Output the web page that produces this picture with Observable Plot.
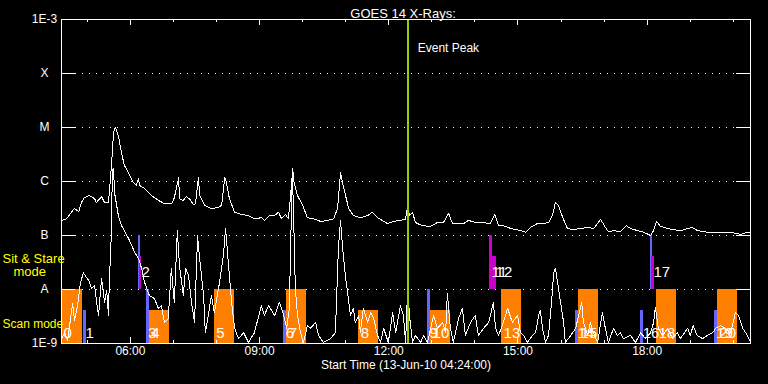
<!DOCTYPE html>
<html><head><meta charset="utf-8">
<script src="https://cdn.jsdelivr.net/npm/d3@7"></script>
<script src="https://cdn.jsdelivr.net/npm/@observablehq/plot@0.6"></script>
<style>html,body{margin:0;padding:0;background:#000;overflow:hidden} svg{display:block}</style>
</head><body><div id="chart"></div>
<script>
// ---- time axis (decimal hours UT, 13-Jun-2010) ----
const startHour = 4.4, endHour = 20.4;
const xTickLabels = ["06:00","09:00","12:00","15:00","18:00"];
const yLevels = [1e-9,1e-8,1e-7,1e-6,1e-5,1e-4,1e-3];
const yLabels = ["1E-9","A","B","C","M","X","1E-3"];
const gridLevels = [1e-8,1e-7,1e-6,1e-5,1e-4];
const peakHour = 12.44;

// ---- GOES 1-8 A (long channel), log10 flux ----
const upTime = [
 4.40,4.52,4.63,4.70,4.80,4.86,4.93,5.05,5.17,5.21,
 5.33,5.40,5.49,5.52,5.56,5.61,5.65,5.72,5.79,5.86,
 5.96,6.07,6.14,6.19,6.21,6.33,6.49,6.65,6.79,6.96,
 7.02,7.12,7.14,7.23,7.30,7.37,7.47,7.51,7.58,7.61,
 7.72,7.88,8.05,8.12,8.19,8.23,8.30,8.42,8.58,8.74,
 8.88,9.05,9.11,9.23,9.35,9.44,9.51,9.60,9.67,9.72,
 9.77,9.79,9.88,10.00,10.11,10.25,10.42,10.58,10.72,10.81,
 10.88,10.95,11.07,11.18,11.34,11.51,11.62,11.74,11.97,12.11,
 12.27,12.39,12.44,12.48,12.55,12.62,12.78,12.97,13.13,13.27,
 13.39,13.48,13.62,13.74,13.85,14.01,14.18,14.36,14.46,14.55,
 14.67,14.83,15.06,15.18,15.29,15.45,15.59,15.71,15.80,15.87,
 15.94,16.04,16.15,16.29,16.45,16.62,16.76,16.92,17.03,17.10,
 17.22,17.38,17.52,17.61,17.78,17.92,18.08,18.15,18.22,18.31,
 18.47,18.61,18.78,18.94,19.05,19.17,19.40,19.71,19.94,20.17,20.33,20.40];
const upLog = [
 -6.72,-6.69,-6.57,-6.50,-6.56,-6.39,-6.30,-6.26,-6.32,-6.39,
 -6.28,-6.39,-6.39,-6.11,-5.70,-5.09,-5.00,-5.15,-5.46,-5.70,
 -5.85,-6.02,-6.07,-5.94,-6.07,-6.13,-6.26,-6.35,-6.41,-6.41,
 -6.30,-5.93,-6.32,-6.35,-6.28,-6.32,-6.43,-6.41,-5.93,-6.26,
 -6.44,-6.50,-6.48,-6.44,-5.93,-6.02,-6.32,-6.57,-6.61,-6.63,
 -6.69,-6.67,-6.72,-6.63,-6.63,-6.57,-6.69,-6.61,-6.69,-6.26,
 -5.76,-5.98,-6.26,-6.44,-6.67,-6.69,-6.74,-6.72,-6.69,-6.50,
 -5.83,-6.11,-6.50,-6.63,-6.67,-6.63,-6.57,-6.67,-6.78,-6.74,
 -6.72,-6.70,-6.44,-6.63,-6.57,-6.76,-6.82,-6.83,-6.76,-6.76,
 -6.59,-6.78,-6.78,-6.78,-6.72,-6.76,-6.76,-6.78,-6.61,-6.82,
 -6.82,-6.87,-6.91,-6.94,-6.85,-6.78,-6.78,-6.76,-6.63,-6.39,
 -6.44,-6.67,-6.87,-6.89,-6.87,-6.85,-6.87,-6.70,-6.85,-6.93,
 -6.91,-6.93,-6.82,-6.87,-6.91,-6.94,-7.00,-6.91,-6.74,-6.83,
 -6.87,-6.89,-6.91,-6.87,-6.85,-6.91,-6.94,-6.94,-6.94,-6.98,-6.94,-6.94];

// ---- GOES 0.5-4 A (short channel), log10 flux ----
const loTime = [
 4.40,4.47,4.54,4.61,4.66,4.70,4.75,4.79,4.84,4.91,
 4.98,5.03,5.10,5.17,5.21,5.26,5.33,5.40,5.45,5.49,
 5.51,5.56,5.58,5.61,5.63,5.72,5.79,5.96,6.10,6.19,
 6.26,6.33,6.44,6.56,6.65,6.72,6.79,6.88,6.95,7.02,
 7.09,7.14,7.23,7.28,7.35,7.42,7.49,7.56,7.60,7.70,
 7.74,7.81,7.88,7.95,8.07,8.16,8.21,8.28,8.35,8.42,
 8.51,8.63,8.74,8.88,9.04,9.11,9.21,9.35,9.46,9.56,
 9.63,9.69,9.76,9.79,9.83,9.88,9.95,10.02,10.11,10.18,
 10.30,10.37,10.48,10.65,10.76,10.83,10.88,10.93,11.00,11.06,
 11.11,11.18,11.22,11.30,11.34,11.41,11.51,11.58,11.65,11.74,
 11.81,11.88,11.99,12.09,12.16,12.27,12.34,12.39,12.44,12.48,
 12.55,12.62,12.74,12.81,12.90,13.04,13.13,13.25,13.32,13.36,
 13.43,13.50,13.62,13.71,13.78,13.90,14.01,14.08,14.20,14.32,
 14.43,14.48,14.55,14.66,14.76,14.87,14.99,15.06,15.13,15.22,
 15.34,15.41,15.48,15.52,15.57,15.64,15.71,15.78,15.83,15.87,
 15.92,15.99,16.06,16.10,16.17,16.27,16.34,16.41,16.48,16.52,
 16.62,16.68,16.75,16.85,16.96,17.03,17.10,17.22,17.31,17.38,
 17.45,17.61,17.73,17.85,17.96,18.08,18.15,18.19,18.26,18.36,
 18.47,18.59,18.70,18.77,18.94,19.00,19.07,19.16,19.29,19.40,
 19.52,19.59,19.70,19.82,19.94,20.05,20.12,20.22,20.33,20.40];
const loLog = [
 -8.91,-8.80,-8.94,-8.54,-8.26,-8.57,-8.39,-8.20,-7.87,-7.69,
 -7.78,-7.83,-7.98,-7.93,-8.20,-8.48,-7.80,-8.24,-8.02,-8.48,
 -7.87,-6.94,-5.80,-5.76,-6.20,-6.63,-6.81,-7.06,-7.31,-7.43,
 -7.61,-7.87,-8.11,-8.17,-8.35,-8.30,-8.61,-8.54,-7.61,-8.24,
 -6.91,-7.56,-8.11,-7.61,-7.74,-8.24,-8.61,-7.00,-7.37,-8.11,
 -8.80,-8.48,-8.11,-8.43,-7.87,-7.37,-6.87,-7.56,-8.24,-8.72,
 -8.91,-8.80,-8.98,-8.80,-8.30,-8.48,-8.30,-8.48,-8.24,-8.48,
 -8.72,-8.35,-5.80,-6.63,-7.98,-8.48,-8.80,-8.98,-8.67,-8.72,
 -8.61,-8.85,-8.98,-8.91,-8.80,-7.24,-6.72,-7.24,-7.80,-8.15,
 -8.48,-8.35,-8.61,-8.48,-8.80,-8.35,-8.61,-8.43,-8.54,-8.85,
 -8.98,-8.72,-8.98,-8.43,-8.80,-8.30,-8.48,-8.98,-7.96,-8.48,
 -8.98,-8.85,-8.98,-8.85,-8.98,-8.48,-8.72,-8.61,-8.80,-8.07,
 -8.72,-8.98,-8.54,-8.35,-8.85,-8.61,-8.48,-8.85,-8.72,-8.61,
 -8.24,-8.72,-8.85,-8.61,-8.35,-8.61,-8.48,-8.80,-8.85,-8.98,
 -8.85,-8.80,-8.48,-8.39,-8.72,-8.98,-8.85,-8.24,-7.69,-7.61,
 -7.87,-8.24,-8.61,-8.98,-8.91,-8.80,-8.72,-8.48,-8.24,-8.61,
 -8.85,-8.61,-8.80,-8.98,-8.43,-8.72,-8.98,-8.72,-8.85,-8.80,
 -8.91,-8.85,-8.98,-8.80,-8.91,-8.80,-8.61,-8.33,-8.72,-8.85,
 -8.72,-8.91,-8.80,-8.91,-8.72,-8.85,-8.67,-8.85,-8.91,-8.85,
 -8.80,-8.72,-8.67,-8.72,-8.80,-8.43,-8.48,-8.72,-8.85,-8.98];

// ---- observation intervals ----
// scan mode (orange)
const scanId    = ["0","4","5","7","8","10","13","15","18","20"];
const scanStart = [4.40,6.44,7.95,9.63,11.30,12.97,14.62,16.41,18.22,19.63];
const scanEnd   = [4.89,6.91,8.42,10.09,11.76,13.43,15.08,16.87,18.68,20.10];
const scanTop   = [1e-8,4.1e-9,1e-8,1e-8,4.1e-9,4.1e-9,1e-8,1e-8,1e-8,1e-8];
// short pointings (blue)
const blueId     = ["1","2","3","6","9","14","16","17","19"];
const blueStart  = [4.91,6.19,6.37,9.56,12.90,16.34,17.85,18.08,19.56];
const blueEnd    = [4.98,6.23,6.44,9.63,12.97,16.41,17.92,18.12,19.63];
const blueBottom = [1e-9,1e-8,1e-9,1e-9,1e-9,1e-9,1e-9,1e-8,1e-9];
const blueTop    = [4.1e-9,1e-7,1e-8,4.1e-9,1e-8,4.1e-9,4.1e-9,1e-7,4.1e-9];
// sit & stare (magenta)
const stareId    = ["2","11","12","17"];
const stareStart = [6.21,14.34,14.41,18.10];
const stareEnd   = [6.26,14.41,14.50,18.17];
const stareTop   = [4.1e-8,1e-7,4.1e-8,4.1e-8];

// ---- build tables ----
const day = Date.UTC(2010, 5, 13);
const toDate = h => new Date(day + h * 3600e3);
const parseHM = s => { const [h, m] = s.split(":").map(Number); return toDate(h + m / 60); };
const upper = upTime.map((t, i) => ({t: toDate(t), f: 10 ** upLog[i]}));
const lower = loTime.map((t, i) => ({t: toDate(t), f: 10 ** loLog[i]}));
const scan = scanId.map((id, i) => ({id, s: toDate(scanStart[i]), e: toDate(scanEnd[i]), top: scanTop[i]}));
const blue = blueId.map((id, i) => ({id, s: toDate(blueStart[i]), e: toDate(blueEnd[i]), bot: blueBottom[i], top: blueTop[i]}));
const stare = stareId.map((id, i) => ({id, s: toDate(stareStart[i]), e: toDate(stareEnd[i]), top: stareTop[i]}));
const scanLabels = [...scan, ...blue.filter(d => d.bot < 1e-8)];
const xTicks = xTickLabels.map(parseHM);
const hourTicks = d3.utcHour.range(toDate(startHour), toDate(endHour));
const majorTicks = hourTicks.filter(d => d.getUTCHours() % 3 === 0);
const minorTicks = hourTicks.filter(d => d.getUTCHours() % 3 !== 0);

const W = 768, H = 384, mL = 61, mR = 18, mT = 19, mB = 41;
const fw = W - mL - mR, fh = H - mT - mB;
const font = "'Liberation Sans', Arial, sans-serif";
const white = "#ffffff";
const crisp = {shapeRendering: "crispEdges"};

const chart = Plot.plot({
  width: W, height: H,
  marginLeft: mL, marginRight: mR, marginTop: mT, marginBottom: mB,
  style: {background: "#000", color: white, fontFamily: font, fontSize: "12px"},
  x: {type: "utc", domain: [toDate(startHour), toDate(endHour)], axis: null},
  y: {type: "log", domain: [1e-9, 1e-3], axis: null},
  marks: [
    Plot.ruleY(gridLevels, {y: d => d, stroke: white, strokeDasharray: "1,6", ...crisp}),
    Plot.rect(scan, {x1: "s", x2: "e", y1: 1e-9, y2: "top", fill: "#ff8000", ...crisp}),
    Plot.rect(blue, {x1: "s", x2: "e", y1: "bot", y2: "top", fill: "#6666ff", ...crisp}),
    Plot.rect(stare, {x1: "s", x2: "e", y1: 1e-8, y2: "top", fill: "#cc00cc", ...crisp}),
    Plot.line(lower, {x: "t", y: "f", stroke: white, strokeWidth: 1, ...crisp}),
    Plot.line(upper, {x: "t", y: "f", stroke: white, strokeWidth: 1, ...crisp}),
    Plot.text(scanLabels, {x: "s", y: 1.55e-9, text: "id", dx: 2, textAnchor: "start", fill: white, fontSize: 15, fontFamily: font}),
    Plot.text(stare.filter(d => d.id !== "12"), {x: "s", y: 2.1e-8, text: "id", dx: 2, textAnchor: "start", fill: white, fontSize: 15, fontFamily: font}),
    Plot.text(stare.filter(d => d.id === "12"), {x: "s", y: 2.1e-8, text: "id", dx: 3, textAnchor: "start", fill: white, fontSize: 15, fontFamily: font}),
    Plot.ruleX([peakHour], {x: d => toDate(d), stroke: "#99cc00", strokeWidth: 2, ...crisp}),
    Plot.text([peakHour], {x: d => toDate(d), text: () => "Event Peak", frameAnchor: "top", dy: 24, dx: 10, textAnchor: "start", fill: white}),
    // frame and ticks
    Plot.frame({stroke: white, ...crisp}),
    Plot.ruleX(majorTicks, {x: d => d, stroke: white, insetTop: fh - 6, ...crisp}),
    Plot.ruleX(minorTicks, {x: d => d, stroke: white, insetTop: fh - 3, ...crisp}),
    Plot.ruleX(majorTicks, {x: d => d, stroke: white, insetBottom: fh - 6, ...crisp}),
    Plot.ruleX(minorTicks, {x: d => d, stroke: white, insetBottom: fh - 3, ...crisp}),
    Plot.ruleY(yLevels, {y: d => d, stroke: white, insetRight: fw - 14, ...crisp}),
    Plot.ruleY(yLevels, {y: d => d, stroke: white, insetLeft: fw - 14, ...crisp}),
    // axis labels
    Plot.text(yLevels, {y: d => d, text: (d, i) => yLabels[i], frameAnchor: "left", dx: -17, textAnchor: "middle", fill: white}),
    Plot.text(xTicks, {x: d => d, text: (d, i) => xTickLabels[i], frameAnchor: "bottom", dy: 11, fill: white}),
    Plot.text(["Start Time (13-Jun-10 04:24:00)"], {text: d => d, frameAnchor: "bottom", dy: 25, fill: white}),
    Plot.text(["GOES 14 X-Rays:"], {text: d => d, frameAnchor: "top", dy: -11, dx: -3, fontSize: 13, fill: white}),
    // instrument-mode legend (yellow)
    Plot.text(["Sit & Stare"], {text: d => d, frameAnchor: "left", y: 10 ** -7.44, dx: -59, textAnchor: "start", fill: "#ffff00", fontSize: 13}),
    Plot.text(["mode"], {text: d => d, frameAnchor: "left", y: 10 ** -7.67, dx: -48, textAnchor: "start", fill: "#ffff00", fontSize: 13}),
    Plot.text(["Scan mode"], {text: d => d, frameAnchor: "left", y: 10 ** -8.65, dx: -59, textAnchor: "start", fill: "#ffff00"})
  ]
});
document.getElementById("chart").appendChild(chart);
</script>
</body></html>
